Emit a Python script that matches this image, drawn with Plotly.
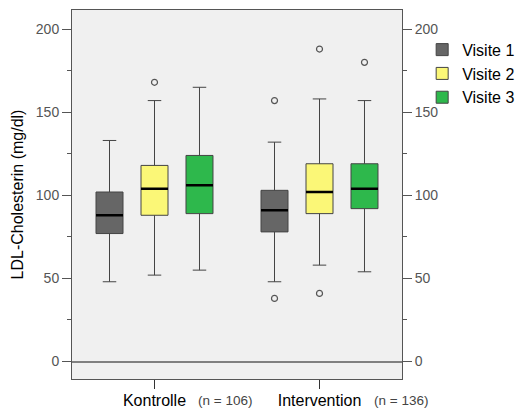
import plotly.graph_objects as go

groups = ["Kontrolle", "Intervention"]
group_n = ["(n = 106)", "(n = 136)"]
visits = ["Visite 1", "Visite 2", "Visite 3"]
colors = ["#666666", "#fbf777", "#2eb84c"]

# per visit: values for [Kontrolle, Intervention]
lower = {"Visite 1": [48, 48], "Visite 2": [52, 58], "Visite 3": [55, 54]}
q1 = {"Visite 1": [77, 78], "Visite 2": [88, 89], "Visite 3": [89, 92]}
median = {"Visite 1": [88, 91], "Visite 2": [104, 102], "Visite 3": [106, 104]}
q3 = {"Visite 1": [102, 103], "Visite 2": [118, 119], "Visite 3": [124, 119]}
upper = {"Visite 1": [133, 132], "Visite 2": [157, 158], "Visite 3": [165, 157]}

# outliers: (group, value)
outlier_groups = {"Visite 1": ["Intervention", "Intervention"],
                  "Visite 2": ["Kontrolle", "Intervention", "Intervention"],
                  "Visite 3": ["Intervention"]}
outlier_values = {"Visite 1": [157, 38],
                  "Visite 2": [168, 188, 41],
                  "Visite 3": [180]}

y_ticks = [0, 50, 100, 150, 200]
y_range = [-10.5, 211.5]

FONT = "Liberation Sans, Arial, sans-serif"
fig = go.Figure()

for v, c in zip(visits, colors):
    fig.add_trace(go.Box(
        x=groups, q1=q1[v], median=median[v], q3=q3[v],
        lowerfence=lower[v], upperfence=upper[v],
        name=v, offsetgroup=v, fillcolor=c,
        line=dict(color="#444444", width=1), whiskerwidth=0.5,
        boxpoints=False, hoverinfo="skip", legendgroup=v,
    ))

for v in visits:
    # thick black median line (drawn on the mirrored right axis, same scale)
    fig.add_trace(go.Box(
        x=groups, q1=median[v], median=median[v], q3=median[v],
        lowerfence=median[v], upperfence=median[v],
        name=v, offsetgroup=v, fillcolor="rgba(0,0,0,0)", yaxis="y2",
        line=dict(color="#000000", width=2.5), whiskerwidth=0,
        boxpoints=False, showlegend=False, hoverinfo="skip", legendgroup=v,
    ))

for v in visits:
    fig.add_trace(go.Scatter(
        x=outlier_groups[v], y=outlier_values[v], mode="markers",
        offsetgroup=v, showlegend=False, hoverinfo="skip",
        marker=dict(symbol="circle-open", size=6, color="#555555", line=dict(width=1.2)),
    ))

n_shift = [41, 52]
for g, n, s in zip(groups, group_n, n_shift):
    fig.add_annotation(x=g, xref="x", y=0, yref="paper", text=n, showarrow=False,
                       xanchor="left", yanchor="middle", xshift=s, yshift=-21,
                       font=dict(size=13.5, color="#444444"))

fig.update_layout(
    width=518, height=409,
    margin=dict(l=72, r=116, t=10, b=30),
    paper_bgcolor="white", plot_bgcolor="#f0f0f0",
    boxmode="group", boxgap=0.182, boxgroupgap=0.4,
    scattermode="group", scattergap=0.182,
    font=dict(family=FONT, color="#000000"),
    legend=dict(x=0.815, y=0.92, xref="container", yref="container",
                xanchor="left", yanchor="top",
                font=dict(size=16, color="#000000"), bgcolor="rgba(0,0,0,0)",
                tracegroupgap=0, itemwidth=30),
    showlegend=True,
    xaxis=dict(type="category", categoryorder="array", categoryarray=groups,
               range=[-0.5, 1.5], tickangle=0,
               ticks="outside", ticklen=9, tickcolor="#333333", ticklabelstandoff=-2,
               showline=True, mirror=True, linecolor="#555555", linewidth=1,
               showgrid=False, zeroline=False, automargin=False,
               tickfont=dict(size=16, color="#000000")),
    yaxis=dict(range=y_range, tickvals=y_ticks, ticks="outside", ticklen=9,
               tickcolor="#555555",
               minor=dict(dtick=25, ticks="outside", ticklen=4, tickcolor="#555555"),
               showline=True, mirror=True, linecolor="#555555", linewidth=1,
               showgrid=False, zeroline=True, zerolinecolor="#808080", zerolinewidth=1.5,
               tickfont=dict(size=14, color="#555555"), automargin=False,
               title=dict(text="LDL-Cholesterin (mg/dl)", font=dict(size=16, color="#000000"),
                          standoff=8)),
    yaxis2=dict(overlaying="y", side="right", range=y_range, tickvals=y_ticks,
                ticks="outside", ticklen=9, tickcolor="#555555",
                minor=dict(dtick=25, ticks="outside", ticklen=4, tickcolor="#555555"),
                showline=False, showgrid=False, zeroline=False,
                tickfont=dict(size=14, color="#555555"), automargin=False),
)

fig.write_html("out.html", config={"displayModeBar": False},
               post_script="document.body.style.margin='0px';")
